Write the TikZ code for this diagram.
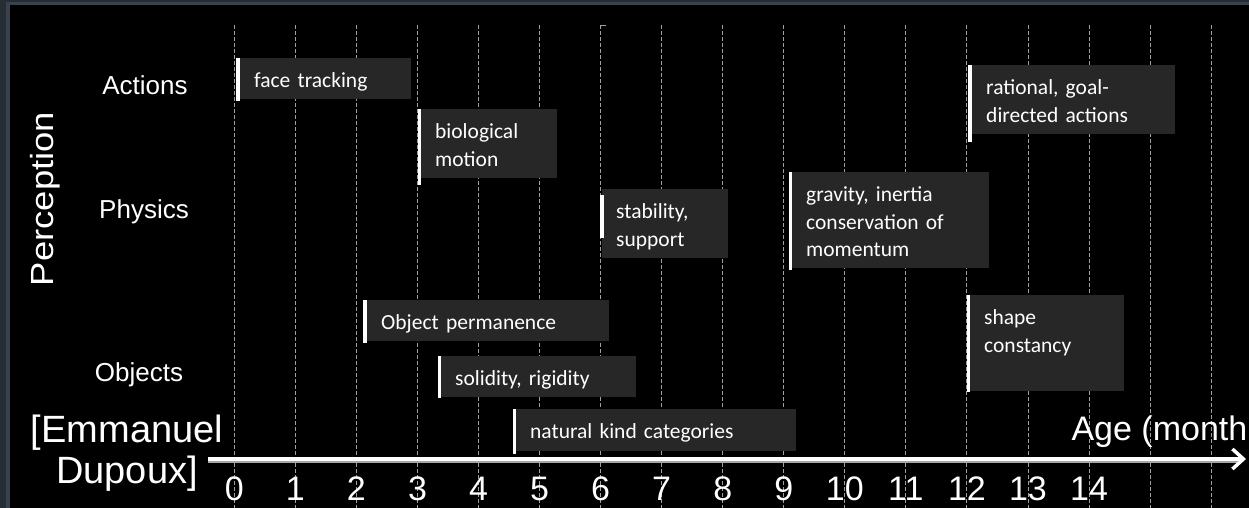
\documentclass[tikz,border=0pt]{standalone}
\usepackage{fontspec}
\usepackage{graphicx}
\setmainfont{Carlito}
\newfontfamily\arialfont{Liberation Sans}
\usetikzlibrary{arrows.meta}

\definecolor{slate}{HTML}{262D35}
\definecolor{slateband}{HTML}{3A424D}
\definecolor{boxgrey}{HTML}{272727}
\definecolor{gridgrey}{HTML}{A0A0A0}

\begin{document}
\begin{tikzpicture}[x=1pt, y=-1pt]
\tikzstyle{event}=[anchor=north west, fill=boxgrey, text=white, inner xsep=14pt, inner ysep=0pt, align=left, text height=29.5pt, font=\fontsize{21.5}{27.5}\selectfont]
\tikzstyle{startbar}=[draw=white, line width=3.5pt]
\tikzstyle{gridline}=[gridgrey, line width=0.9pt, dash pattern=on 4pt off 2pt]
\tikzstyle{rowlabel}=[text=white, anchor=base, font=\arialfont\fontsize{26}{30}\selectfont]
\tikzstyle{month}=[text=white, anchor=base, font=\arialfont\fontsize{34}{38}\selectfont]
% frame and black slide area
\useasboundingbox (0,0) rectangle (1249,508);
\fill[slate] (0,0) rectangle (1249,508);
\fill[slateband] (6,2) rectangle (1249,508);
\fill[black] (10,5) rectangle (1249,508);
% month grid
\foreach \m in {0,...,16}
  \draw[gridline] (234.3+61.05*\m,25) -- (234.3+61.05*\m,508);
\draw[gridgrey, line width=0.9pt] (601,25) -- (606,25);
% age axis
\coordinate (axstart) at (208,459);
\coordinate (axend) at (1246,459);
\draw[gray!70, line width=5pt] (axstart) ++(0,1) -- (1238,460);
\draw[white, line width=3.5pt, -{Straight Barb[length=11pt, width=20pt]}] (axstart) -- (axend);
\foreach \m in {0,...,14}
  \node[month] (m\m) at (234.3+61.05*\m,500) {\m};
\node[month, anchor=base west] (age) at (1068,440) {Age (month};
% row labels
\node[rowlabel, rotate=90, font=\arialfont\fontsize{32}{36}\selectfont] (perc) at (53,199) {\scalebox{1.14}[1]{Perception}};
\node[rowlabel] (actions) at (145,95) {Actions};
\node[rowlabel] (physics) at (144,218) {Physics};
\node[rowlabel] (objects) at (139,381.7) {Objects};
\node[text=white, align=center, anchor=base, font=\arialfont\fontsize{38}{41}\selectfont] (credit) at (127,483) {[Emmanuel\\Dupoux]};
% milestones
\node[event, text width=143pt, text depth=11.5pt] (face) at (240,58) {face tracking};
\node[event, text width=108pt, text depth=39.5pt] (bio) at (421,109) {biological\\motion};
\node[event, text width=98pt, text depth=39.5pt] (stab) at (602,189) {stability,\\support};
\node[event, text width=169pt, text depth=66.5pt] (grav) at (792,172) {gravity, inertia\\conservation of\\momentum};
\node[event, text width=175pt, text depth=39.5pt] (goal) at (972,65) {rational, goal-\\directed actions};
\node[event, text width=214pt, text depth=11.5pt] (perm) at (367,300) {Object permanence};
\node[event, text width=167pt, text depth=11.5pt] (solid) at (441,356) {solidity, rigidity};
\node[event, text width=252pt, text depth=12.5pt] (kind) at (516,409) {natural kind categories};
\node[event, text width=126pt, text depth=66.5pt] (shape) at (970,295) {shape\\constancy};
% onset marks
\draw[startbar] (face.north west) ++(-2,0) -- ++(0,43);
\draw[startbar] (bio.north west) ++(-1.5,0) -- ++(0,76);
\draw[startbar] (stab.north west) ++(0,6) -- ++(0,43);
\draw[startbar] (grav.north west) ++(-1.5,0) -- ++(0,98);
\draw[startbar] (goal.north west) ++(-2,0) -- ++(0,77);
\draw[startbar] (perm.north west) ++(-2,0) -- ++(0,43);
\draw[startbar] (solid.north west) ++(-1.5,0) -- ++(0,42);
\draw[startbar] (kind.north west) ++(-1.5,0) -- ++(0,45);
\draw[startbar] (shape.north west) ++(-1.5,0) -- ++(0,97);
\end{tikzpicture}
\end{document}
